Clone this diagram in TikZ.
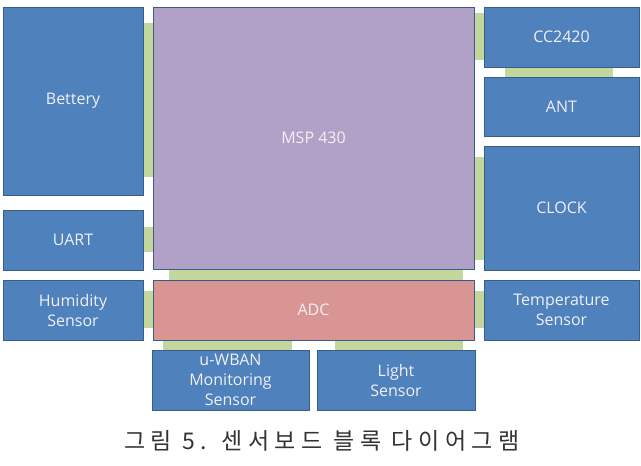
\documentclass[tikz,border=0pt]{standalone}
\usepackage{fontspec}
\setmainfont{Open Sans}
\newfontfamily\korfont[LetterSpace=24]{Noto Sans CJK KR}
\usetikzlibrary{backgrounds}
\definecolor{blkblue}{RGB}{79,129,189}
\definecolor{blkedge}{RGB}{56,93,138}
\definecolor{mcupurple}{RGB}{178,161,199}
\definecolor{adcred}{RGB}{217,149,148}
\definecolor{busgreen}{RGB}{195,214,155}
\definecolor{labeltext}{RGB}{240,240,244}

\begin{document}
\begin{tikzpicture}[x=1pt, y=-1pt,
    blk/.style={draw=blkedge, line width=0.9pt, fill=blkblue, text=labeltext,
      font=\fontsize{16}{20}\selectfont, align=center, inner sep=0pt},
    mcu/.style={blk, fill=mcupurple},
    conv/.style={blk, fill=adcred},
    bus/.style={fill=busgreen}]
  \useasboundingbox (0,0) rectangle (641,466);
  \node[blk, minimum width=140, minimum height=188] (bat) at (73,101) {Bettery};
  \node[mcu, minimum width=321, minimum height=262] (msp) at (313.5,138) {MSP 430};
  \node[blk, minimum width=140, minimum height=60] (uart) at (73,240) {UART};
  \node[blk, minimum width=140, minimum height=60] (hum) at (73,310) {Humidity\\Sensor};
  \node[conv, minimum width=321, minimum height=60] (adc) at (313.5,310) {ADC};
  \node[blk, minimum width=157, minimum height=60] (wban) at (230.5,380) {u-WBAN\\Monitoring\\Sensor};
  \node[blk, minimum width=158, minimum height=60] (light) at (396,380) {Light\\Sensor};
  \node[blk, minimum width=155, minimum height=60] (temp) at (561.5,310) {Temperature\\Sensor};
  \node[blk, minimum width=155, minimum height=60] (cc) at (561.5,37) {CC2420};
  \node[blk, minimum width=155, minimum height=59] (ant) at (561.5,106.5) {ANT};
  \node[blk, minimum width=155, minimum height=124] (clk) at (561.5,208) {CLOCK};
  \node[font=\korfont\fontsize{23}{24}\selectfont, text=black!80] (cap) at (322,441) {그림 5. 센서보드 블록 다이어그램};
  % green bus bars in the gaps
  \begin{scope}[on background layer]
    \fill[bus] ([yshift=-16]bat.north east) rectangle ([yshift=18]msp.west |- bat.south);
    \fill[bus] ([yshift=-17]uart.north east) rectangle ([yshift=18]msp.west |- uart.south);
    \fill[bus] ([yshift=-11]hum.north east) rectangle ([yshift=12]adc.west |- hum.south);
    \fill[bus] ([xshift=16]msp.south west) rectangle ([xshift=-11]adc.north east);
    \fill[bus] ([xshift=10]adc.south west) rectangle ([xshift=-17]wban.north east);
    \fill[bus] ([xshift=18]light.north west |- adc.south) rectangle ([xshift=-12]light.north east);
    \fill[bus] ([yshift=-11]adc.north east) rectangle ([yshift=12]temp.south west);
    \fill[bus] ([yshift=-6]msp.north east) rectangle ([yshift=7]cc.south west);
    \fill[bus] ([xshift=21]cc.south west) rectangle ([xshift=-26]ant.north east);
    \fill[bus] ([yshift=-11]msp.east |- clk.north) rectangle ([yshift=10]clk.south west);
  \end{scope}
\end{tikzpicture}
\end{document}
